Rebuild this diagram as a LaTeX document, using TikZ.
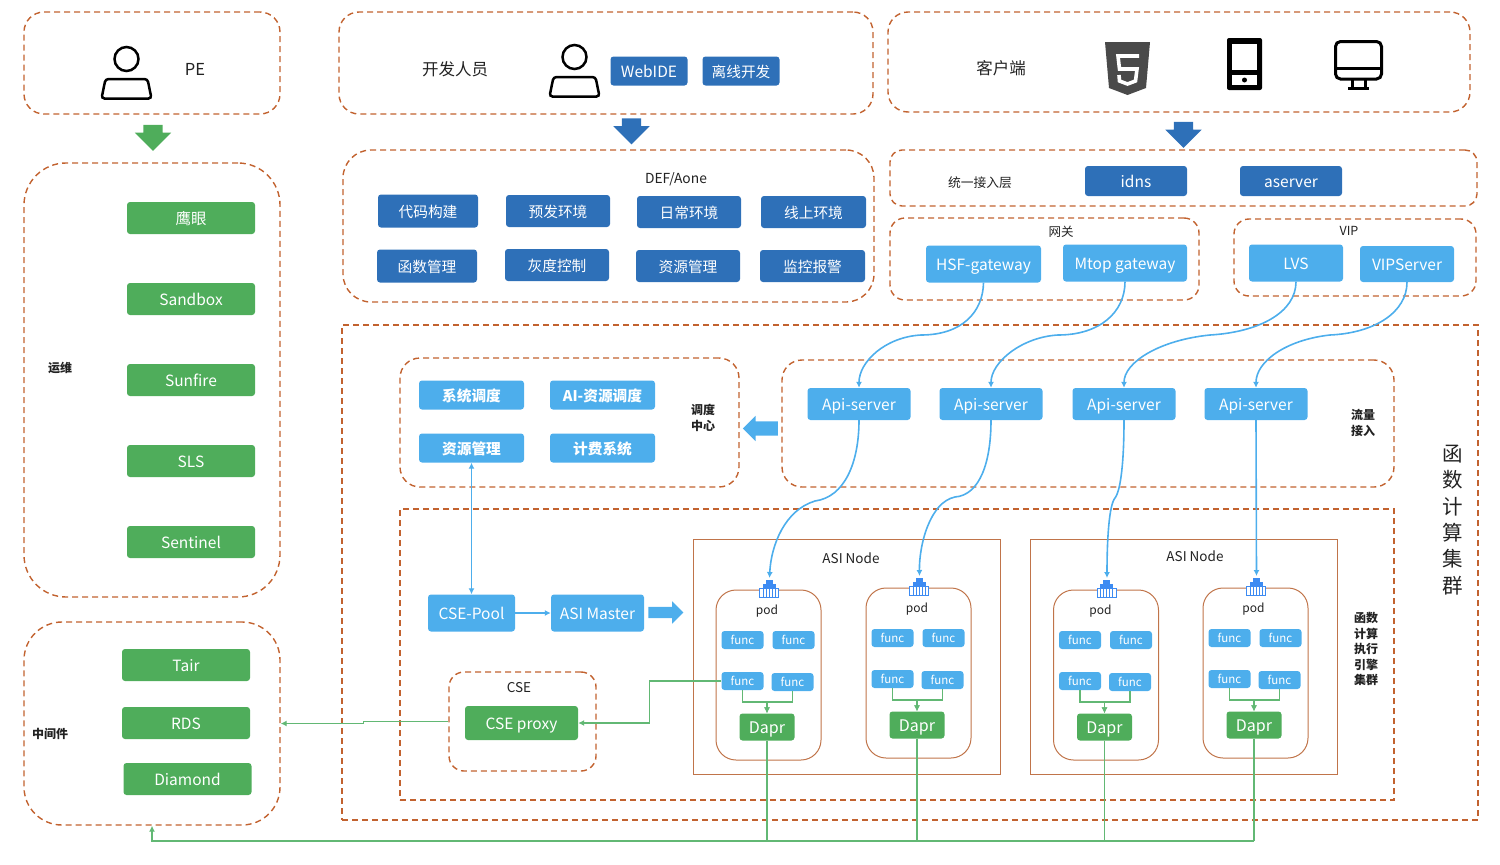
\documentclass[tikz,border=0pt]{standalone}
\usepackage{fontspec}
\setmainfont{Noto Sans CJK SC}
\usetikzlibrary{arrows.meta,positioning,shapes.arrows}
\definecolor{fcdash}{HTML}{C2622F}
\definecolor{fcframe}{HTML}{C0744A}
\definecolor{fcblue}{HTML}{2E70B8}
\definecolor{fcsky}{HTML}{4DAEEC}
\definecolor{fcgreen}{HTML}{4FAD5B}
\definecolor{fcline}{HTML}{62B874}
\definecolor{fcink}{HTML}{222222}
\definecolor{fcport}{HTML}{3D8BF2}
\definecolor{fcgray}{HTML}{4A4A4A}
\tikzset{
  fcstage/.style={
    rounded corners=3pt,
    align=center,
    inner sep=0pt,
    text height=13pt,
    text depth=1pt,
    text=white
  },
  fcbluebox/.style={fcstage,fill=fcblue,minimum width=104,minimum height=32,font=\fontsize{14.7}{16}\selectfont},
  fcskybox/.style={fcstage,fill=fcsky,minimum width=103,minimum height=32,font=\fontsize{15.5}{18}\selectfont},
  fcgreenbox/.style={fcstage,fill=fcgreen,minimum width=128,minimum height=32,font=\fontsize{15.5}{18}\selectfont},
  fcfunc/.style={fcstage,fill=fcsky,minimum width=42,minimum height=18,text height=10pt,text depth=1pt,font=\fontsize{11.5}{13}\selectfont},
  fcdapr/.style={fcstage,fill=fcgreen,minimum width=55,minimum height=27,font=\fontsize{16}{18}\selectfont},
  fcregion/.style={draw=fcdash,line width=1.4pt,dash pattern=on 6pt off 4pt,inner sep=0pt},
  fcnode/.style={draw=fcframe,line width=1pt,inner sep=0pt},
  fclabel/.style={text=fcink,align=center,inner sep=0pt,font=\fontsize{13.5}{16}\selectfont},
  fcnote/.style={text=fcink,align=center,inner sep=0pt,font=\fontsize{12}{15.5}\selectfont\bfseries},
  fcflow/.style={-{Latex[length=6pt,width=6pt]},line width=1.6pt,fcsky},
  fcgreenflow/.style={line width=1.6pt,fcline},
  fcgreentip/.style={-{Latex[length=6pt,width=6pt]},line width=1.6pt,fcline},
  fcblock/.style={single arrow,inner ysep=0pt,inner xsep=9.5pt,text height=0pt,text depth=0pt,text width=0pt,
                  minimum height=26,minimum width=36,
                  single arrow head extend=8.5,single arrow head indent=0pt},
  fcperson/.pic={
    \draw[line width=2.5pt,black] (0,0) circle (12);
    \draw[line width=2.5pt,black,rounded corners=3pt] (-21,20) -- (21,20) -- (25,39.5) -- (-25,39.5) -- cycle;
  },
  fcportpic/.pic={
    \fill[fcport] (-3.5,-9) rectangle (3.5,-4);
    \fill[fcport] (-6.5,-5) rectangle (6.5,-1);
    \draw[fcport,fill=white,line width=0.8pt] (-9.5,-1) rectangle (9.5,8);
    \foreach \lx in {-6,-3,0,3,6} \draw[fcport,line width=0.9pt] (\lx,-1) -- (\lx,8);
  }
}
\begin{document}
\begin{tikzpicture}[x=1pt,y=-1pt]
  \useasboundingbox (0,0) rectangle (1500,865);

  % dashed regions
  \node[fcregion,rounded corners=20pt,minimum width=256,minimum height=102] (pebox) at (152,63) {};
  \node[fcregion,rounded corners=20pt,minimum width=534,minimum height=102] (devbox) at (606,63) {};
  \node[fcregion,rounded corners=20pt,minimum width=582,minimum height=100] (clientbox) at (1179,62) {};
  \node[fcregion,rounded corners=42pt,minimum width=256,minimum height=434] (opsbox) at (152,380) {};
  \node[fcregion,rounded corners=38pt,minimum width=256,minimum height=203] (midbox) at (152,723.5) {};
  \node[fcregion,rounded corners=28pt,minimum width=531,minimum height=152] (defbox) at (608.5,226) {};
  \node[fcregion,rounded corners=12pt,minimum width=587,minimum height=56] (accessbox) at (1183.5,178) {};
  \node[fcregion,rounded corners=15pt,minimum width=309,minimum height=82] (gatebox) at (1044.5,259) {};
  \node[fcregion,rounded corners=15pt,minimum width=242,minimum height=77] (vipbox) at (1355,257.5) {};
  \node[fcregion,minimum width=1136,minimum height=495] (clusterbox) at (910,572.5) {};
  \node[fcregion,rounded corners=20pt,minimum width=339,minimum height=129] (schedbox) at (569.5,422.5) {};
  \node[fcregion,rounded corners=20pt,minimum width=612,minimum height=127] (trafficbox) at (1088,423.5) {};
  \node[fcregion,minimum width=994,minimum height=291] (enginebox) at (897,654.5) {};
  \node[fcregion,rounded corners=15pt,minimum width=147,minimum height=99] (csebox) at (522.5,721.5) {};
  \node[fcnode,minimum width=307,minimum height=235] (asileft) at (847,656.5) {};
  \node[fcnode,minimum width=307,minimum height=235] (asiright) at (1184,656.5) {};

  % top row
  \pic at (126.5,59) {fcperson};
  \pic at (574.5,57) {fcperson};
  \node[fclabel,font=\fontsize{16.5}{18}\selectfont] (pelabel) at (195,69) {PE};
  \node[fclabel,font=\fontsize{16.5}{18}\selectfont] (devlabel) at (455,69) {开发人员};
  \node[fclabel,font=\fontsize{16.5}{18}\selectfont] (clientlabel) at (1001,68) {客户端};
  \node[fcbluebox,minimum width=77,minimum height=29,font=\fontsize{15.5}{18}\selectfont] (webide) at (649,71) {WebIDE};
  \node[fcbluebox,minimum width=77,minimum height=29] (offline) at (741,71) {离线开发};

  % client icons
  \fill[fcgray] (1105,42) -- (1150,42) -- (1146,88) -- (1127.5,95) -- (1109,88) -- cycle;
  \draw[white,line width=3.6pt] (1139,56) -- (1118,56) -- (1119.5,69) -- (1137,69) -- (1135.5,81) -- (1127.5,84) -- (1119.5,81) -- (1119,75);
  \fill[black,rounded corners=2pt] (1227,38) rectangle (1262,90);
  \fill[white] (1232,43.5) rectangle (1257,69.5);
  \fill[white] (1232,75) rectangle (1257,85);
  \fill[black] (1244.5,80) circle (2.5);
  \draw[black,line width=3pt,rounded corners=5pt] (1335.5,41.5) rectangle (1381.5,79);
  \draw[black,line width=3pt] (1335.5,68) -- (1381.5,68);
  \draw[black,line width=3pt] (1352,79) -- (1352,88) (1365,79) -- (1365,88) (1348,88) -- (1369,88);

  % block arrows
  \node[fcblock,fill=fcgreen,shape border rotate=270] (pearrow) at (153,133) {};
  \node[fcblock,fill=fcblue,shape border rotate=270] (devarrow) at (631.5,126.5) {};
  \node[fcblock,fill=fcblue,shape border rotate=270] (clientarrow) at (1183.5,130) {};
  \node[fcblock,fill=fcsky,shape border rotate=180,inner xsep=0pt,inner ysep=7pt,text width=,minimum height=35,minimum width=25,single arrow head extend=5.5] (schedarrow) at (764,428.5) {};
  \node[fcblock,fill=fcsky,inner xsep=0pt,inner ysep=5.5pt,text width=,minimum height=35,minimum width=22,single arrow head extend=5.5] (masterarrow) at (663,612.5) {};

  % operations and middleware
  \node[fcgreenbox] (eagle) at (191,218) {鹰眼};
  \node[fcgreenbox] (sandbox) at (191,299) {Sandbox};
  \node[fcgreenbox] (sunfire) at (191,380) {Sunfire};
  \node[fcgreenbox] (sls) at (191,461) {SLS};
  \node[fcgreenbox] (sentinel) at (191,542) {Sentinel};
  \node[fcgreenbox] (tair) at (186,665) {Tair};
  \node[fcgreenbox] (rds) at (186,723) {RDS};
  \node[fcgreenbox] (diamond) at (187.5,779) {Diamond};
  \node[fcnote] (opslabel) at (60,368) {运维};
  \node[fcnote] (midlabel) at (50,734) {中间件};

  % DEF/Aone
  \node[fclabel,font=\fontsize{13.8}{16}\selectfont] (deflabel) at (676,179) {DEF/Aone};
  \node[fcbluebox,minimum width=100,minimum height=33] (build) at (428,211) {代码构建};
  \node[fcbluebox] (prerelease) at (558,211) {预发环境};
  \node[fcbluebox] (daily) at (689,212) {日常环境};
  \node[fcbluebox,minimum width=105] (online) at (813.5,212) {线上环境};
  \node[fcbluebox,minimum width=100,minimum height=33] (funcmgr) at (427,266) {函数管理};
  \node[fcbluebox] (gray) at (557,265) {灰度控制};
  \node[fcbluebox] (resmgr) at (688,266) {资源管理};
  \node[fcbluebox,minimum width=105] (monitor) at (812.5,266) {监控报警};

  % access and gateways
  \node[fclabel,font=\fontsize{12.8}{15}\selectfont] (accesslabel) at (980,183) {统一接入层};
  \node[fcbluebox,minimum width=102,minimum height=30,font=\fontsize{15.5}{18}\selectfont] (idns) at (1136,181) {idns};
  \node[fcbluebox,minimum width=102,minimum height=30,font=\fontsize{15.5}{18}\selectfont] (aserver) at (1291,181) {aserver};
  \node[fclabel,font=\fontsize{12.5}{15}\selectfont] (gatelabel) at (1061,232) {网关};
  \node[fclabel,font=\fontsize{12.5}{15}\selectfont] (viplabel) at (1349,231) {VIP};
  \node[fcskybox,minimum width=115,minimum height=37] (hsf) at (983.5,264) {HSF-gateway};
  \node[fcskybox,minimum width=124,minimum height=37] (mtop) at (1125,263) {Mtop gateway};
  \node[fcskybox,minimum width=94,minimum height=37] (lvs) at (1296,263) {LVS};
  \node[fcskybox,minimum width=94,minimum height=36] (vipserver) at (1407,264) {VIPServer};

  % scheduling
  \node[fcskybox,minimum width=105,minimum height=29,font=\fontsize{14.7}{16}\selectfont\bfseries] (sysched) at (471.5,395) {系统调度};
  \node[fcskybox,minimum width=105,minimum height=29,font=\fontsize{14.7}{16}\selectfont\bfseries] (aisched) at (602.5,395) {AI-资源调度};
  \node[fcskybox,minimum width=105,minimum height=29,font=\fontsize{14.7}{16}\selectfont\bfseries] (poolmgr) at (471.5,448) {资源管理};
  \node[fcskybox,minimum width=105,minimum height=29,font=\fontsize{14.7}{16}\selectfont\bfseries] (billing) at (602.5,448) {计费系统};
  \node[fcnote] (schedlabel) at (703,418) {调度\\中心};

  % traffic
  \node[fcskybox] (apia) at (859,404) {Api-server};
  \node[fcskybox] (apib) at (991,404) {Api-server};
  \node[fcskybox] (apic) at (1124,404) {Api-server};
  \node[fcskybox] (apid) at (1256,404) {Api-server};
  \node[fcnote] (trafficlabel) at (1363,423) {流量\\接入};
  \node[fcnote] (enginelabel) at (1366,649) {函数\\计算\\执行\\引擎\\集群};
  \node[fclabel,font=\fontsize{20.5}{26.4}\selectfont] (clusterlabel) at (1453,520) {函\\数\\计\\算\\集\\群};

  % engine
  \node[fcskybox,minimum width=87,minimum height=37] (csepool) at (471.5,613) {CSE-Pool};
  \node[fcskybox,minimum width=93,minimum height=37] (asimaster) at (597.5,613) {ASI Master};
  \node[fclabel] (cselabel) at (519,687.5) {CSE};
  \node[fcgreenbox,minimum width=113,minimum height=34] (cseproxy) at (521.5,723) {CSE proxy};
  \node[fclabel] (asilefttitle) at (851,558) {ASI Node};
  \node[fclabel] (asirighttitle) at (1195,556) {ASI Node};
  \coordinate (busleft) at (152,841);

  % pods
  \foreach \p/\cx/\cy/\lx in {a/768.5/675/-1.5,b/918.5/673/-1.5,c/1106/675/-5.5,d/1255.5/673/-2} {
    \node[fcnode,rounded corners=20pt,minimum width=105,minimum height=170] (pod\p) at (\cx,\cy) {};
    \pic at (\cx+0.5,\cy-86) {fcportpic};
    \coordinate (port\p) at (\cx+1,\cy-97);
    \node[fclabel,font=\fontsize{12}{15}\selectfont] (podlabel\p) at (\cx+\lx,\cy-64) {pod};
    \node[fcfunc] (func\p1) at (\cx-26,\cy-35) {func};
    \node[fcfunc] (func\p2) at (\cx+25,\cy-35) {func};
    \node[fcfunc] (func\p3) at (\cx-26,\cy+6) {func};
    \node[fcfunc] (func\p4) at (\cx+24,\cy+7) {func};
    \node[fcdapr] (dapr\p) at (\cx-1.5,\cy+52) {Dapr};
    \draw[fcgreentip] (func\p3.south) -- ++(0,12) -| (dapr\p.north);
    \draw[fcgreentip] (func\p4.south) -- ++(0,11) -| (dapr\p.north);
    \draw[fcgreenflow] (dapr\p.south) -- (dapr\p.south |- busleft);
  }

  % green connectors
  \draw[fcgreentip] (daprd.south |- busleft) -- (busleft) -- (midbox.south);
  \draw[fcgreentip] (funca3.west) -- ++(-72,0) |- (cseproxy.east);
  \draw[fcgreentip,line width=1.4pt] (csebox.west) -- ++(-85,0) |- (midbox.east);

  % blue connectors
  \draw[fcflow] (hsf.south) .. controls (983,312) and (962,335) .. (921,335) .. controls (885,337) and (859,362) .. (apia.north);
  \draw[fcflow] (mtop.south) .. controls (1125,312) and (1100,335) .. (1058,335) .. controls (1022,337) and (991,362) .. (apib.north);
  \draw[fcflow] (lvs.south) .. controls (1296,312) and (1260,332) .. (1210,335) .. controls (1160,340) and (1124,362) .. (apic.north);
  \draw[fcflow] (vipserver.south) .. controls (1407,312) and (1375,333) .. (1330,335) .. controls (1285,340) and (1256,362) .. (apid.north);
  \draw[fcflow] (apia.south) .. controls (859,462) and (845,497) .. (815,501) .. controls (785,510) and (771,545) .. (porta);
  \draw[fcflow] (apib.south) .. controls (991,462) and (980,495) .. (955,497) .. controls (930,502) and (919,545) .. (portb);
  \draw[fcflow] (apic.south) .. controls (1124,460) and (1121,490) .. (1115,498) .. controls (1109,505) and (1107,540) .. (portc);
  \draw[fcflow] (apid.south) -- (portd);
  \draw[{Latex[length=6pt,width=6pt]}-{Latex[length=6pt,width=6pt]},line width=1.6pt,fcsky] (poolmgr.south) -- (csepool.north);
  \draw[fcflow] (csepool) -- (asimaster);
\end{tikzpicture}
\end{document}
